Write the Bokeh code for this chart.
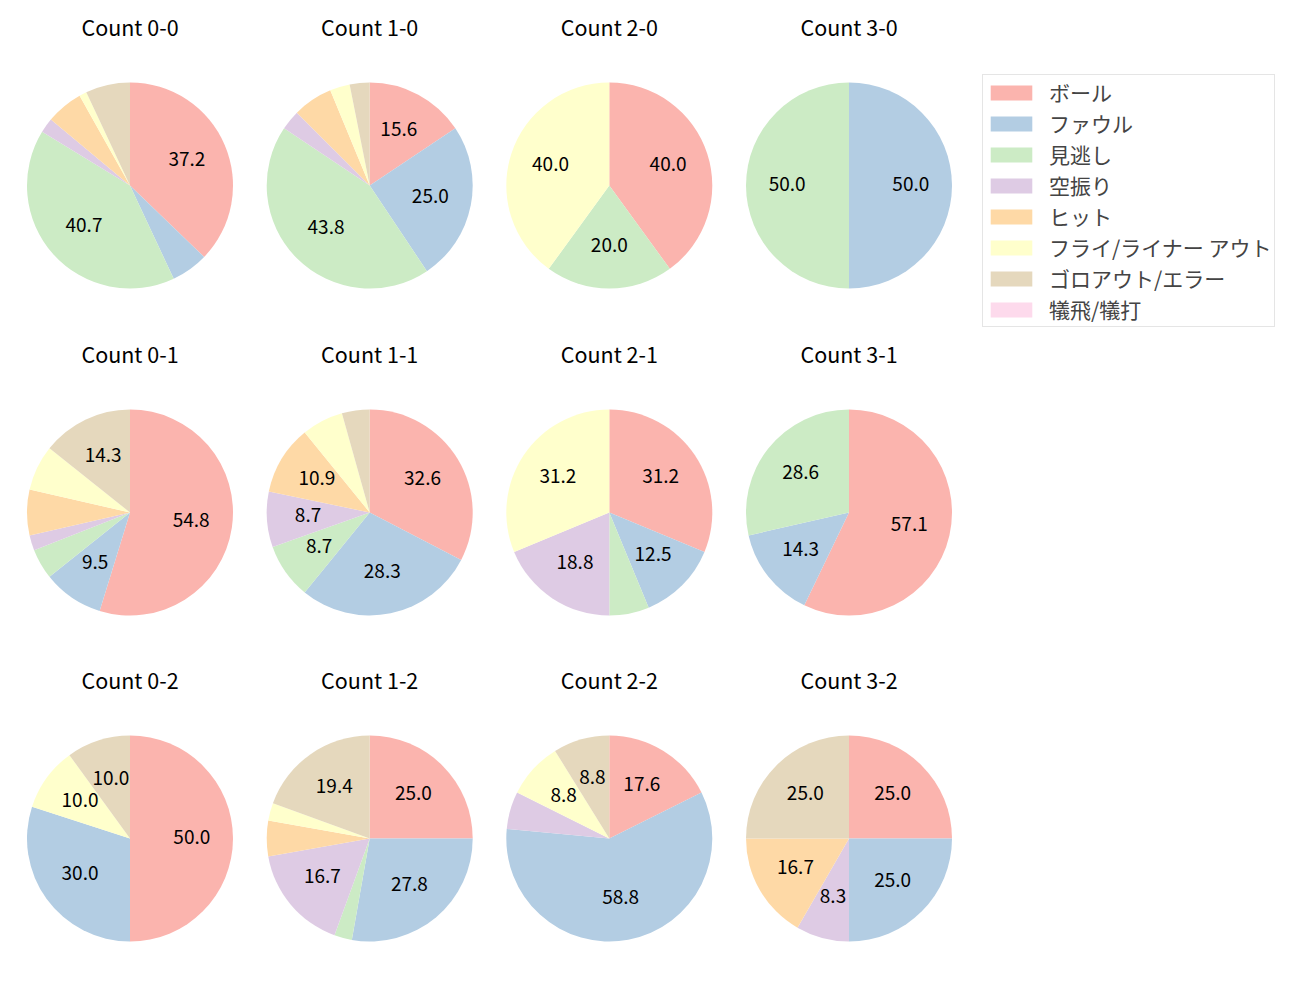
import math
from bokeh.plotting import figure
from bokeh.models import ColumnDataSource, Range1d, Legend, LegendItem
from bokeh.core.properties import value
from bokeh.embed import file_html
from bokeh.resources import INLINE

# ---- data ----
categories = ["ボール", "ファウル", "見逃し", "空振り", "ヒット",
              "フライ/ライナー アウト", "ゴロアウト/エラー", "犠飛/犠打"]
colors = ["#fbb4ae", "#b3cde3", "#ccebc5", "#decbe4", "#fed9a6",
          "#ffffcc", "#e5d8bd", "#fddaec"]
count_labels = ["0-0", "1-0", "2-0", "3-0",
                "0-1", "1-1", "2-1", "3-1",
                "0-2", "1-2", "2-2", "3-2"]
ball      = [32, 5, 2, 0, 23, 15, 5, 4, 5, 9, 6, 3]
foul      = [5, 8, 0, 1, 4, 13, 2, 1, 3, 10, 20, 3]
minogashi = [35, 14, 1, 1, 2, 4, 1, 2, 0, 1, 0, 0]
karaburi  = [2, 1, 0, 0, 1, 4, 3, 0, 0, 6, 2, 1]
hit       = [5, 2, 0, 0, 3, 5, 0, 0, 0, 2, 0, 2]
fly       = [1, 1, 2, 0, 3, 3, 5, 0, 1, 1, 3, 0]
goro      = [6, 1, 0, 0, 6, 2, 0, 0, 1, 7, 3, 3]
gi        = [0, 0, 0, 0, 0, 0, 0, 0, 0, 0, 0, 0]
series = [ball, foul, minogashi, karaburi, hit, fly, goro, gi]

# ---- layout ----
W, H = 1300, 1000
col_x = [129.5, 369.2, 608.8, 848.5]
row_y = [185, 512, 838]     # pixel rows from top
title_dy = -157
R = 103
FONT = "Noto Sans CJK JP"

p = figure(width=W, height=H, output_backend="svg", toolbar_location=None,
           x_range=Range1d(0, W), y_range=Range1d(0, H), min_border=0)
p.axis.visible = False
p.grid.visible = False
p.outline_line_color = None
p.background_fill_color = "white"
p.border_fill_color = "white"

centers = []
for i in range(12):
    cx = col_x[i % 4]
    cy = H - row_y[i // 4]
    centers.append((cx, cy))

renderers = []
lab_x, lab_y, lab_t = [], [], []
totals = [sum(s[i] for s in series) for i in range(12)]
cum = [0.0] * 12
for k, s in enumerate(series):
    d = dict(x=[], y=[], start=[], end=[])
    for i in range(12):
        if s[i] <= 0:
            continue
        f0 = cum[i] / totals[i]
        f1 = (cum[i] + s[i]) / totals[i]
        cum[i] += s[i]
        a0 = math.pi / 2 - 2 * math.pi * f1
        a1 = math.pi / 2 - 2 * math.pi * f0
        d["x"].append(centers[i][0])
        d["y"].append(centers[i][1])
        d["start"].append(a0)
        d["end"].append(a1)
        pct = 100.0 * s[i] / totals[i]
        if pct >= 8:
            mid = (a0 + a1) / 2
            lab_x.append(centers[i][0] + 0.6 * R * math.cos(mid))
            lab_y.append(centers[i][1] + 0.6 * R * math.sin(mid))
            lab_t.append(f"{pct:.1f}")
    if not d["x"]:
        # category with no slices: keep a non-drawn row so the legend shows it
        d = dict(x=[float("nan")], y=[float("nan")], start=[0.0], end=[0.0])
    src = ColumnDataSource(d)
    r = p.wedge(x="x", y="y", radius=R, start_angle="start", end_angle="end",
                source=src, fill_color=colors[k], line_color=None)
    renderers.append(r)

p.text(x=lab_x, y=lab_y, text=lab_t, text_font=value(FONT),
       text_font_size="19px", text_align="center", text_baseline="middle",
       text_color="black", y_offset=-2)

tx = [c[0] for c in centers]
ty = [c[1] - title_dy for c in centers]
tt = [f"Count {c}" for c in count_labels]
p.text(x=tx, y=ty, text=tt, text_font=value(FONT), text_font_size="21.5px",
       text_align="center", text_baseline="middle", text_color="black",
       y_offset=-2)

legend = Legend(items=[LegendItem(label=categories[k], renderers=[renderers[k]])
                       for k in range(len(categories))],
                location=(982, 673))
legend.label_text_font = FONT
legend.label_text_font_size = "21px"
legend.glyph_width = 52
legend.glyph_height = 19
legend.label_height = 20
legend.label_standoff = 12
legend.spacing = 1
legend.padding = 2
legend.margin = 0
legend.border_line_color = "#cccccc"
legend.border_line_width = 1
legend.background_fill_alpha = 1
p.add_layout(legend, "center")

open("out.html", "w").write(file_html(p, INLINE))
